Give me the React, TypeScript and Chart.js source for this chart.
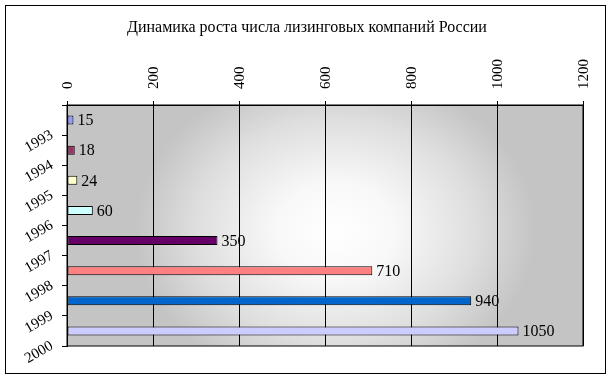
import React, { useEffect, useRef } from 'react';
import { Chart, registerables } from 'chart.js';

Chart.register(...registerables);

const titleText = 'Динамика роста числа лизинговых компаний России';
const years = ['1993', '1994', '1995', '1996', '1997', '1998', '1999', '2000'];
const companies = [15, 18, 24, 60, 350, 710, 940, 1050];
const barColors = ['#9999FF', '#993366', '#FFFFCC', '#CCFFFF', '#660066', '#FF8080', '#0066CC', '#CCCCFF'];
const xMin = 0;
const xMax = 1200;
const xStep = 200;

const FONT = "'Liberation Serif', 'Times New Roman', serif";

const backgroundPlugin = {
  id: 'bgFrame',
  beforeDraw(chart: any) {
    const ctx = chart.ctx;
    const { left, top, right, bottom } = chart.chartArea;
    ctx.save();
    ctx.fillStyle = '#ffffff';
    ctx.fillRect(0, 0, chart.width, chart.height);
    ctx.strokeStyle = '#000000';
    ctx.lineWidth = 1;
    ctx.strokeRect(5.5, 5.5, 600, 368);
    ctx.beginPath();
    ctx.rect(left, top, right - left, bottom - top);
    ctx.clip();
    ctx.fillStyle = '#c4c4c4';
    ctx.fillRect(left, top, right - left, bottom - top);
    const cx = left + (right - left) * 0.52;
    const cy = top + (bottom - top) * 0.52;
    ctx.translate(cx, cy);
    ctx.scale(1.25, 1);
    const r = 160;
    const g = ctx.createRadialGradient(0, 0, 0, 0, 0, r);
    g.addColorStop(0, 'rgba(255,255,255,1)');
    g.addColorStop(0.3, 'rgba(248,248,248,1)');
    g.addColorStop(0.7, 'rgba(222,222,222,1)');
    g.addColorStop(1, 'rgba(196,196,196,1)');
    ctx.fillStyle = g;
    ctx.fillRect(-r, -r, 2 * r, 2 * r);
    ctx.restore();
  },
  afterDraw(chart: any) {
    const ctx = chart.ctx;
    const { left, top, right, bottom } = chart.chartArea;
    ctx.save();
    ctx.strokeStyle = '#000000';
    ctx.lineWidth = 1;
    ctx.strokeRect(left, top, right - left, bottom - top);
    ctx.fillStyle = '#000000';
    ctx.font = `16px ${FONT}`;
    ctx.textAlign = 'center';
    ctx.textBaseline = 'middle';
    ctx.fillText(titleText, 307, 28);
    ctx.restore();
  },
};

const valueLabelPlugin = {
  id: 'valueLabels',
  afterDatasetsDraw(chart: any) {
    const ctx = chart.ctx;
    const meta = chart.getDatasetMeta(0);
    const data = chart.data.datasets[0].data as number[];
    ctx.save();
    ctx.fillStyle = '#000000';
    ctx.font = `16px ${FONT}`;
    ctx.textAlign = 'left';
    ctx.textBaseline = 'middle';
    meta.data.forEach((bar: any, i: number) => {
      ctx.fillText(String(data[i]), bar.x + 4, bar.y + 1);
    });
    ctx.restore();
  },
};

export default function App() {
  const canvasRef = useRef<HTMLCanvasElement | null>(null);

  useEffect(() => {
    const canvas = canvasRef.current;
    if (!canvas) return;
    const chart = new Chart(canvas, {
      type: 'bar',
      data: {
        labels: years,
        datasets: [
          {
            data: companies,
            backgroundColor: barColors,
            borderColor: '#000000',
            borderWidth: 1,
            borderSkipped: false,
            barPercentage: 0.3,
            categoryPercentage: 1,
          },
        ],
      },
      options: {
        indexAxis: 'y',
        animation: false,
        responsive: false,
        devicePixelRatio: 1,
        layout: { padding: { left: 0, right: 29, top: 0, bottom: 35 } },
        plugins: {
          legend: { display: false },
          title: { display: false },
          tooltip: { enabled: false },
        },
        scales: {
          x: {
            position: 'top',
            min: xMin,
            max: xMax,
            ticks: {
              stepSize: xStep,
              minRotation: 90,
              maxRotation: 90,
              color: '#000000',
              font: { family: FONT, size: 15 },
              padding: 12,
              labelOffset: 19,
              callback: (v: any) => String(v),
            },
            grid: {
              color: '#000000',
              lineWidth: 1,
              tickLength: 4,
              drawOnChartArea: true,
            },
            border: { display: true, color: '#000000' },
            afterFit: (scale: any) => {
              scale.height = 105;
            },
          },
          y: {
            position: 'left',
            ticks: {
              minRotation: 30,
              maxRotation: 30,
              color: '#000000',
              font: { family: FONT, size: 15 },
              padding: 10,
              labelOffset: 14,
            },
            grid: {
              offset: true,
              drawOnChartArea: false,
              drawTicks: true,
              tickLength: 5,
              color: '#000000',
            },
            border: { display: true, color: '#000000' },
            afterFit: (scale: any) => {
              scale.width = 67;
            },
          },
        },
      },
      plugins: [backgroundPlugin, valueLabelPlugin],
    });
    return () => chart.destroy();
  }, []);

  return (
    <div style={{ position: 'absolute', left: 0, top: 0, width: 612, height: 381, background: '#fff' }}>
      <canvas ref={canvasRef} width={612} height={381} style={{ display: 'block', width: 612, height: 381 }} />
    </div>
  );
}
